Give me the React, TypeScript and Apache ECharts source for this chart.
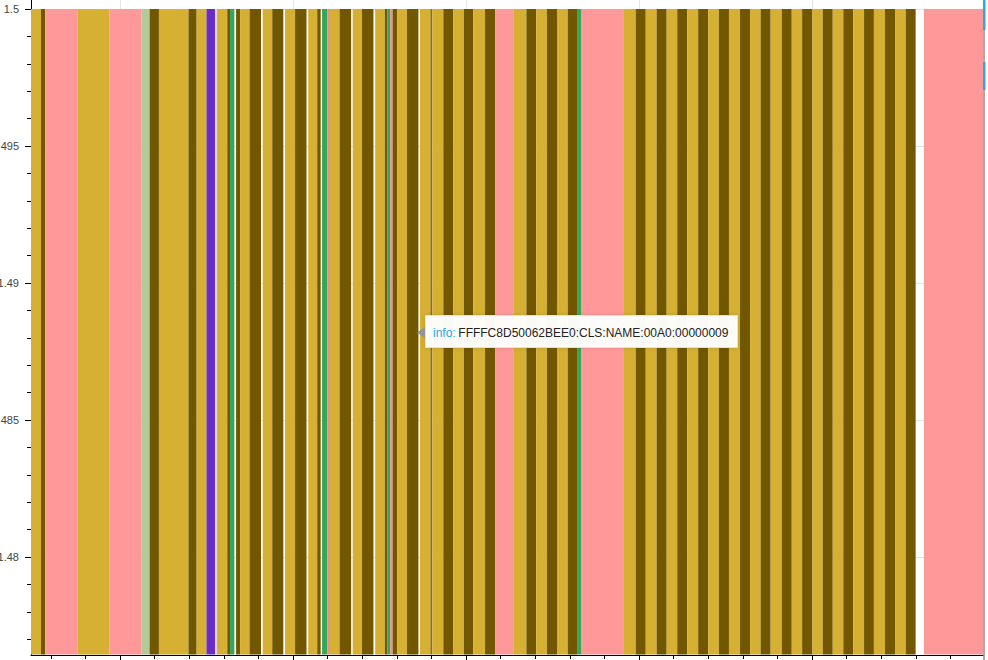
import React, { useEffect, useRef } from "react";
import * as echarts from "echarts";

// Axis ranges (data units)
const X_MIN = 48.55;
const X_MAX = 598.85;
const Y_MIN = 1.476423;
const Y_MAX = 1.500328;
const BAR_TOP = 1.5;

// Segments: start, end, kind
const segStart = [
  45, 54.3, 56.8, 75.3, 94.0, 112.3, 117.1, 122.5, 139.6, 144.3,
  150.0, 154.9, 156.1, 162.0, 163.6, 167.1, 169.4, 174.9, 182.5, 188.0,
  195.4, 201.2, 208.8, 214.0, 216.8, 219.8, 221.4, 226.9, 234.5, 239.9,
  247.5, 253.1, 254.5, 256.2, 257.6, 260.3, 265.9, 273.4, 279.4, 280.5,
  286.9, 292.7, 298.8, 304.2, 311.0, 316.8, 327.7, 334.9, 340.6, 346.8,
  352.6, 358.8, 364.2, 366.8, 391.3, 398.1, 403.9, 410.2, 416.0, 422.1,
  427.9, 434.2, 440.0, 446.2, 452.0, 458.4, 464.2, 470.3, 476.1, 482.5,
  488.3, 494.3, 500.2, 506.2, 512.0, 518.1, 523.8, 530.1, 535.8, 542.2,
  548.0, 554.2, 564.7,
];
const segEnd = [
  54.3, 56.8, 75.3, 94.0, 112.3, 117.1, 122.5, 139.6, 144.3, 150.0,
  154.9, 156.1, 162.0, 163.6, 166.1, 169.4, 174.9, 181.5, 188.0, 194.4,
  201.2, 207.8, 214.0, 216.0, 219.8, 221.4, 226.9, 233.6, 239.9, 246.5,
  253.1, 254.5, 256.2, 257.6, 260.3, 265.9, 272.5, 279.4, 280.5, 286.9,
  292.7, 298.8, 304.2, 311.0, 316.8, 327.7, 334.9, 340.6, 346.8, 352.6,
  358.8, 364.2, 366.8, 391.3, 398.1, 403.9, 410.2, 416.0, 422.1, 427.9,
  434.2, 440.0, 446.2, 452.0, 458.4, 464.2, 470.3, 476.1, 482.5, 488.3,
  494.3, 500.2, 506.2, 512.0, 518.1, 523.8, 530.1, 535.8, 542.2, 548.0,
  554.2, 559.9, 605,
];
const segKind = [
  "gold", "dark", "pink", "gold", "pink", "sage", "dark", "gold", "dark", "gold",
  "purple", "lavender", "gold", "dark", "green", "dark", "gold", "dark", "gold", "dark",
  "gold", "dark", "gold", "dark", "green", "salmon", "gold", "dark", "gold", "dark",
  "gold", "dark", "green", "salmon", "dark", "gold", "dark", "gold", "olive", "gold",
  "dark", "gold", "dark", "gold", "dark", "pink", "gold", "dark", "gold", "dark",
  "gold", "dark", "green", "pink", "gold", "dark", "gold", "dark", "gold", "dark",
  "gold", "dark", "gold", "dark", "gold", "dark", "gold", "dark", "gold", "dark",
  "gold", "dark", "gold", "dark", "gold", "dark", "gold", "dark", "gold", "dark",
  "gold", "dark", "pink",
];

const kindColors: Record<string, string> = {
  gold: "#D5B033",
  dark: "#715700",
  pink: "#FF9999",
  sage: "#B4C99A",
  purple: "#6A2CC4",
  lavender: "#DDD5F2",
  green: "#34A65A",
  salmon: "#EE8C8C",
  olive: "#8C6F10",
};

const yMajorTicks = [1.48, 1.485, 1.49, 1.495, 1.5];
const yMajorLabels = ["1.48", "1.485", "1.49", "1.495", "1.5"];
const yMinorTicks = [
  1.477, 1.478, 1.479, 1.481, 1.482, 1.483, 1.484, 1.486, 1.487, 1.488,
  1.489, 1.491, 1.492, 1.493, 1.494, 1.496, 1.497, 1.498, 1.499,
];
const xMajorTicks = [100, 200, 300, 400, 500];
const xMinorTicks = [
  60, 80, 120, 140, 160, 180, 220, 240, 260, 280, 320, 340, 360, 380,
  420, 440, 460, 480, 520, 540, 560, 580,
];

const tooltipLabel = "info:";
const tooltipValue = "FFFFC8D50062BEE0:CLS:NAME:00A0:00000009";

const FONT = '"Liberation Sans", Arial, Helvetica, sans-serif';

export default function App() {
  const ref = useRef<HTMLDivElement>(null);

  useEffect(() => {
    if (!ref.current) return;
    const chart = echarts.init(ref.current, undefined, { renderer: "svg" });

    const yLabelFormatter = (v: number) => {
      let best = 0;
      for (let i = 1; i < yMajorTicks.length; i++) {
        if (Math.abs(yMajorTicks[i] - v) < Math.abs(yMajorTicks[best] - v)) best = i;
      }
      return yMajorLabels[best];
    };

    const option: any = {
      animation: false,
      backgroundColor: "#ffffff",
      grid: {
        left: 31,
        right: 5,
        top: 0,
        bottom: 5,
        containLabel: false,
        outerBoundsMode: "none",
      },
      xAxis: [
        {
          type: "value",
          min: X_MIN,
          max: X_MAX,
          position: "bottom",
          axisLine: { show: true, onZero: false, lineStyle: { color: "#000", width: 1 } },
          axisTick: { show: true, customValues: xMajorTicks, length: 6, lineStyle: { color: "#000" } },
          axisLabel: { show: false },
          splitLine: { show: false },
        },
        {
          type: "value",
          min: X_MIN,
          max: X_MAX,
          position: "bottom",
          axisLine: { show: false, onZero: false },
          axisTick: { show: true, customValues: xMinorTicks, length: 4, lineStyle: { color: "#000" } },
          axisLabel: { show: false },
          splitLine: { show: false },
        },
      ],
      yAxis: [
        {
          type: "value",
          min: Y_MIN,
          max: Y_MAX,
          position: "left",
          axisLine: { show: true, onZero: false, lineStyle: { color: "#000", width: 1 } },
          axisTick: { show: true, customValues: yMajorTicks, length: 6, lineStyle: { color: "#000" } },
          axisLabel: {
            show: true,
            customValues: yMajorTicks,
            margin: 12,
            color: "#444",
            fontSize: 11,
            fontFamily: FONT,
            formatter: yLabelFormatter,
          },
          splitLine: { show: false },
        },
        {
          type: "value",
          min: Y_MIN,
          max: Y_MAX,
          position: "left",
          axisLine: { show: false, onZero: false },
          axisTick: { show: true, customValues: yMinorTicks, length: 4, lineStyle: { color: "#000" } },
          axisLabel: { show: false },
          splitLine: { show: false },
        },
      ],
      series: [
        {
          type: "custom",
          name: "hgrid",
          silent: true,
          z: 0,
          xAxisIndex: 0,
          yAxisIndex: 0,
          data: yMajorTicks.map((v) => [X_MIN, v]),
          encode: { x: 0, y: 1 },
          renderItem: (params: any, api: any) => {
            const cs = params.coordSys;
            const p = api.coord([api.value(0), api.value(1)]);
            const y = Math.round(p[1]) + 0.5;
            return {
              type: "line",
              shape: { x1: cs.x, y1: y, x2: cs.x + cs.width, y2: y },
              style: { stroke: "#e5e5e5", lineWidth: 1 },
            };
          },
        },
        {
          type: "custom",
          name: "vgrid",
          silent: true,
          z: 0,
          xAxisIndex: 0,
          yAxisIndex: 0,
          data: xMajorTicks.map((v) => [v, Y_MAX]),
          encode: { x: 0, y: 1 },
          renderItem: (params: any, api: any) => {
            const cs = params.coordSys;
            const p = api.coord([api.value(0), api.value(1)]);
            const x = Math.round(p[0]) + 0.5;
            return {
              type: "line",
              shape: { x1: x, y1: cs.y, x2: x, y2: cs.y + cs.height },
              style: { stroke: "#e5e5e5", lineWidth: 1 },
            };
          },
        },
        {
          type: "custom",
          name: "segments",
          z: 2,
          xAxisIndex: 0,
          yAxisIndex: 0,
          data: segStart.map((s, i) => [s, segEnd[i], BAR_TOP]),
          encode: { x: [0, 1], y: 2 },
          renderItem: (params: any, api: any) => {
            const cs = params.coordSys;
            const p0 = api.coord([api.value(0), api.value(2)]);
            const p1 = api.coord([api.value(1), api.value(2)]);
            const x0 = Math.max(p0[0], cs.x);
            const x1 = Math.min(p1[0], cs.x + cs.width);
            const top = p0[1];
            const bottom = cs.y + cs.height - 0.5;
            if (x1 <= x0) return null;
            return {
              type: "rect",
              shape: { x: x0, y: top, width: x1 - x0, height: bottom - top },
              style: { fill: kindColors[segKind[params.dataIndex]] },
            };
          },
        },
      ],
      graphic: [
        {
          type: "rect",
          z: 100,
          shape: { x: 425.5, y: 315.5, width: 312, height: 32 },
          style: {
            fill: "rgba(255,255,255,0.96)",
            stroke: "#e2e2e2",
            lineWidth: 1,
            shadowBlur: 4,
            shadowColor: "rgba(0,0,0,0.12)",
          },
        },
        {
          type: "polygon",
          z: 101,
          shape: { points: [[417, 332.5], [425, 327], [425, 338]] },
          style: { fill: "#909599" },
        },
        {
          type: "text",
          z: 101,
          x: 433,
          y: 332.5,
          style: {
            text: tooltipLabel,
            fill: "#26aae1",
            fontSize: 12,
            fontFamily: FONT,
            verticalAlign: "middle",
            align: "left",
          },
        },
        {
          type: "text",
          z: 101,
          x: 458.3,
          y: 332.5,
          style: {
            text: tooltipValue,
            fill: "#222",
            fontSize: 12,
            fontFamily: FONT,
            verticalAlign: "middle",
            align: "left",
          },
        },
        {
          type: "rect",
          z: 100,
          shape: { x: 983.5, y: 0, width: 1, height: 660 },
          style: { fill: "#6b4c5a" },
        },
        {
          type: "rect",
          z: 101,
          shape: { x: 983, y: 0, width: 2.5, height: 30 },
          style: { fill: "#26aae1" },
        },
        {
          type: "rect",
          z: 101,
          shape: { x: 983, y: 62, width: 2.5, height: 28 },
          style: { fill: "#26aae1" },
        },
      ],
    };

    chart.setOption(option);
    return () => chart.dispose();
  }, []);

  return (
    <div
      ref={ref}
      style={{ position: "fixed", left: 0, top: 0, width: 988, height: 660, background: "#fff" }}
    />
  );
}
